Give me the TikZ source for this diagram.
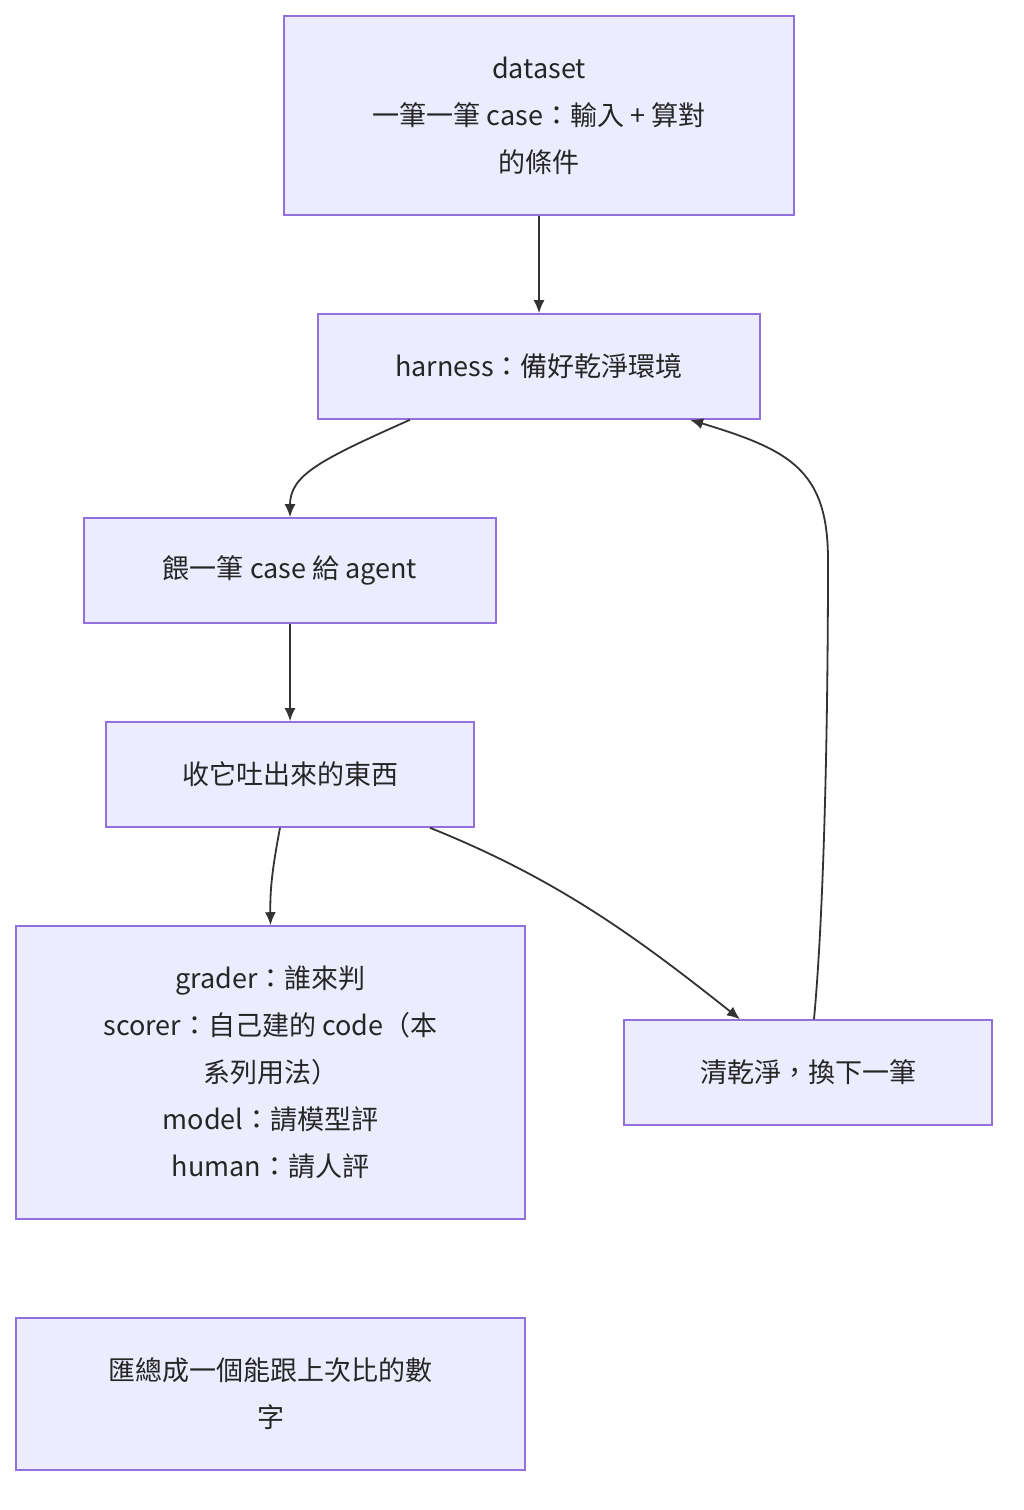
\documentclass[tikz,border=0pt]{standalone}
\usepackage{fontspec}
\setmainfont{Noto Sans CJK TC}
\usetikzlibrary{arrows.meta}
\definecolor{nfill}{HTML}{ECECFF}
\definecolor{nline}{HTML}{9370DB}
\definecolor{eline}{HTML}{333333}
\begin{document}
\begin{tikzpicture}[x=1pt,y=-1pt,
  box/.style={draw=nline,fill=nfill,line width=1.6pt,align=center,inner sep=0pt,
    font=\fontsize{27}{47}\selectfont,text=black!85},
  edge/.style={draw=eline,line width=1.8pt,-{Latex[length=13pt,width=11pt]}}]
\useasboundingbox (0,0) rectangle (1024,1510);
\node[box,minimum width=510pt,minimum height=199pt] (ds) at (539,115.5) {dataset\\一筆一筆 case：輸入 + 算對\\的條件};
\node[box,minimum width=442pt,minimum height=105pt] (hn) at (539,366.5) {harness：備好乾淨環境};
\node[box,minimum width=412pt,minimum height=105pt] (fd) at (290,570.5) {餵一筆 case 給 agent};
\node[box,minimum width=368pt,minimum height=105pt] (cl) at (290,774.5) {收它吐出來的東西};
\node[box,minimum width=509pt,minimum height=293pt] (gr) at (270.5,1072.5) {grader：誰來判\\scorer：自己建的 code（本\\系列用法）\\model：請模型評\\human：請人評};
\node[box,minimum width=368pt,minimum height=105pt] (cn) at (808,1072.5) {清乾淨，換下一筆};
\node[box,minimum width=509pt,minimum height=152pt] (sm) at (270.5,1394) {匯總成一個能跟上次比的數\\字};
\draw[edge] (ds.south) -- (hn.north);
\draw[edge] ([xshift=-129pt]hn.south) .. controls (320,460) and (290,475) .. ([xshift=0pt]fd.north);
\draw[edge] (fd.south) -- (cl.north);
\draw[edge] ([xshift=-10pt]cl.south) .. controls (272,870) and (270,890) .. ([xshift=0pt]gr.north);
\draw[edge] ([xshift=140pt]cl.south) .. controls (560,880) and (640,940) .. ([xshift=-68pt]cn.north);
\draw[edge] ([xshift=6pt]cn.north) .. controls (825,900) and (828,700) .. (828,560) .. controls (828,470) and (790,450) .. ([xshift=151pt]hn.south);
\end{tikzpicture}
\end{document}
